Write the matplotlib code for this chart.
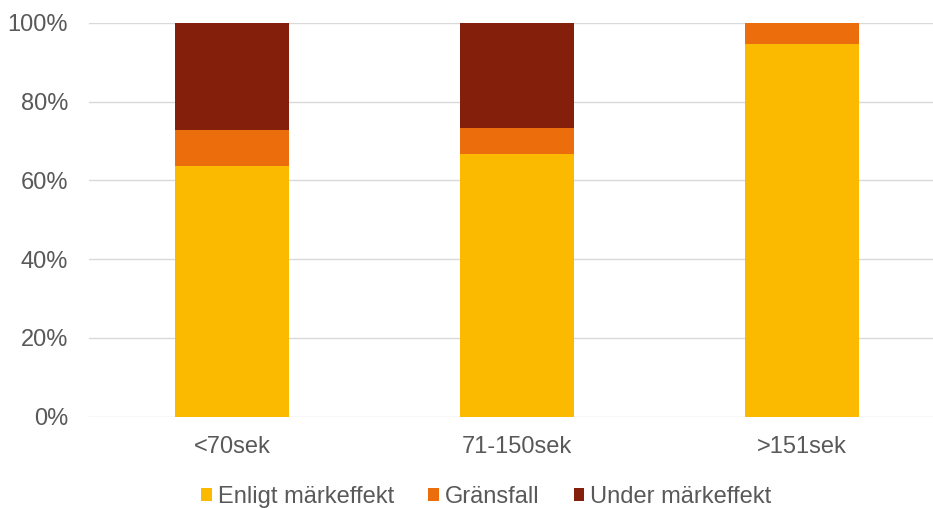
import numpy as np
import matplotlib.pyplot as plt
from matplotlib.ticker import PercentFormatter

plt.rcParams['font.family'] = ['Liberation Sans', 'DejaVu Sans']

categories = ["<70sek", "71-150sek", ">151sek"]
enligt = [63.6, 66.7, 94.7]
gransfall = [9.1, 6.7, 5.3]
under = [27.3, 26.6, 0.0]
series_names = ["Enligt märkeffekt", "Gränsfall", "Under märkeffekt"]
colors = ["#FBBA00", "#EC6D0C", "#841F0B"]

text_color = "#595959"

fig = plt.figure(figsize=(9.33, 5.08), dpi=100)
ax = fig.add_axes([0.0959, 0.1797, 0.9164, 0.7756])

x = np.arange(len(categories))
bottom = np.zeros(len(categories))
for vals, name, c in zip([enligt, gransfall, under], series_names, colors):
    ax.bar(x, vals, 0.4, bottom=bottom, color=c, label=name, zorder=2)
    bottom += np.array(vals)

ax.set_xlim(-0.5, len(categories) - 0.5)
ax.set_ylim(0, 100)
ax.set_yticks(np.arange(0, 101, 20))
ax.yaxis.set_major_formatter(PercentFormatter(decimals=0))
ax.set_xticks(x)
ax.set_xticklabels(categories)
ax.grid(axis='y', color='#D9D9D9', linewidth=1, zorder=0)
for s in ax.spines.values():
    s.set_visible(False)
ax.tick_params(axis='both', length=0, labelsize=17, colors=text_color)
ax.tick_params(axis='x', pad=14)
ax.tick_params(axis='y', pad=15.5)

leg = fig.legend(loc='center', bbox_to_anchor=(0.5214, 0.022), ncol=3, frameon=False,
                 fontsize=17, handlelength=0.45, handleheight=0.45, handletextpad=0.25,
                 columnspacing=1.45)
for t in leg.get_texts():
    t.set_color(text_color)

fig.savefig("out.png", dpi=100)
